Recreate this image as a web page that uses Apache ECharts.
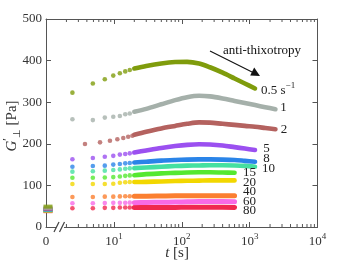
<!DOCTYPE html>
<html><head><meta charset="utf-8">
<script src="https://cdn.jsdelivr.net/npm/echarts@6/dist/echarts.min.js"></script>
<style>html,body{margin:0;padding:0;background:#fff}#c{width:351px;height:263px}</style>
</head><body><div id="c"></div>
<script>
const FONT = 'Liberation Serif';
const rateLabels = ['0.5', '1', '2', '5', '8', '10', '15', '20', '40', '60', '80'];
const colors = ['#7f9c0c', '#a5b0aa', '#b4625f', '#9b50f0', '#2a84e8', '#45e0a0', '#55e830', '#f2d700', '#fb7f30', '#f86ae6', '#f0284f'];

// value at t = 0 (drawn at the "0" position of the broken axis)
const tZero = 1.07;
const gZero = [49, 46, 44, 43, 42, 41, 40, 40, 39, 39, 38];

// early, discrete samples
const tDots = [2.45, 4.9, 7.35, 9.8, 12.25, 14.7, 17.15];
const tDotsRate2 = [3.75, 6.25, 8.75, 11.25, 13.75, 16.25, 18.75];
const g05Dots = [323, 345, 355, 364, 369.5, 374, 377.5];
const g1Dots = [259, 257, 263, 265, 267, 271, 273];
const g2Dots = [199.5, 203.5, 207.5, 211, 214, 217, 219.5];
const g5Dots = [163, 166, 169, 171, 174, 175.5, 177];
const g8Dots = [145, 146.5, 147.5, 150, 151.5, 153, 154];
const g10Dots = [133, 134, 135.5, 137, 138.5, 140, 141];
const g15Dots = [118.5, 118.5, 119, 120, 121.5, 123, 124];
const g20Dots = [103.5, 103.5, 103.5, 104, 106.5, 107.5, 108];
const g40Dots = [72, 72, 73, 73, 73.5, 74, 74];
const g60Dots = [57, 57, 57.5, 58, 58, 58, 58.5];
const g80Dots = [45, 45, 46, 46, 47, 47, 47];

// dense samples (continuous band)
const tCurve = [20, 30, 50, 80, 120, 180, 260, 400, 600, 850, 1200, 1700, 2400];
const g05Curve = [381, 387, 393, 396.5, 397, 393, 384, 371, 357, 345, 333, null, null];
const g1Curve = [277, 284, 295, 305, 312, 315.5, 314, 309, 303, 298, 293, 288, 283];
const g2Curve = [222, 229, 237, 243, 248, 251.5, 251, 248, 245.5, 243, 241, 238, 235];
const g5Curve = [179, 184, 190, 194.5, 197.5, 199, 198.5, 196, 192, 188.5, 185, null, null];
const g8Curve = [155, 157, 159.5, 161, 162, 162.5, 162.5, 162, 161, 159, 157, null, null];
const g10Curve = [141.5, 143, 145, 146.5, 147.5, 148, 148.5, 148.5, 148, 147, 145, null, null];
const g15Curve = [124.5, 127, 129, 130, 131, 131.5, 131.5, 131, 130.5, null, null, null, null];
const g20Curve = [108, 108.5, 109.5, 110.5, 111, 111.5, 112, 112, 112, null, null, null, null];
const g40Curve = [74, 74, 74.5, 75, 75, 75, 75, 75, 75, null, null, null, null];
const g60Curve = [58.5, 59, 59.5, 60, 60.5, 61, 61, 61, 60.5, null, null, null, null];
const g80Curve = [47, 47, 47, 47, 47.5, 47.5, 47.5, 47.5, 47, null, null, null, null];

const minorTickValues = [2, 3, 4, 5, 6, 7, 8, 9, 20, 30, 40, 50, 60, 70, 80, 90,
  200, 300, 400, 500, 600, 700, 800, 900, 2000, 3000, 4000, 5000, 6000, 7000, 8000, 9000];

const dotsAll = [g05Dots, g1Dots, g2Dots, g5Dots, g8Dots, g10Dots, g15Dots, g20Dots, g40Dots, g60Dots, g80Dots];
const curveAll = [g05Curve, g1Curve, g2Curve, g5Curve, g8Curve, g10Curve, g15Curve, g20Curve, g40Curve, g60Curve, g80Curve];

const series = [];
// minor ticks on log axes (bottom and top)
series.push({
  type: 'custom', clip: false, silent: true, z: 5,
  data: minorTickValues.map(v => [v]),
  encode: { x: 0 },
  renderItem: function (params, api) {
    const v = api.value(0);
    const b = api.coord([v, 0]);
    const t = api.coord([v, 500]);
    const st = { stroke: '#555', lineWidth: 1 };
    return { type: 'group', children: [
      { type: 'line', shape: { x1: b[0], y1: b[1], x2: b[0], y2: b[1] - 3 }, style: st },
      { type: 'line', shape: { x1: t[0], y1: t[1], x2: t[0], y2: t[1] + 3 }, style: st }
    ]};
  }
});

for (let i = rateLabels.length - 1; i >= 0; i--) {
  const td = (i === 2) ? tDotsRate2 : tDots;
  series.push({
    type: 'scatter', symbol: 'circle', symbolSize: 4.6, silent: true,
    itemStyle: { color: colors[i] },
    data: td.map((t, k) => [t, dotsAll[i][k]])
  });
  const cd = [];
  tCurve.forEach((t, k) => { if (curveAll[i][k] != null) cd.push([t, curveAll[i][k]]); });
  series.push({
    type: 'line', showSymbol: false, silent: true, smooth: 0.3,
    lineStyle: { color: colors[i], width: (i >= 8 ? 5 : 4.6), cap: 'round', join: 'round' },
    data: cd
  });
}
// t = 0 markers (drawn last so the 0.5 one is on top)
for (let i = rateLabels.length - 1; i >= 0; i--) {
  series.push({
    type: 'scatter', symbol: 'rect', symbolSize: [9, 4], clip: false, silent: true,
    itemStyle: { color: colors[i] },
    data: [[tZero, gZero[i]]]
  });
}

const axisColor = '#555';
const labelColor = '#333';

const option = {
  animation: false,
  backgroundColor: '#fff',
  grid: { left: 46, right: 33.5, top: 19, bottom: 36, containLabel: false },
  xAxis: [
    {
      type: 'log', logBase: 10, min: 1, max: 10000, position: 'bottom',
      axisLine: { show: true, onZero: false, lineStyle: { color: axisColor, width: 1 } },
      axisTick: { show: true, inside: true, length: 5, lineStyle: { color: axisColor } },
      splitLine: { show: false },
      axisLabel: {
        margin: 5, color: labelColor,
        formatter: function (v) {
          if (Math.abs(v - 1) < 1e-9) return '{b|0}';
          return '{b|10}{s|' + Math.round(Math.log10(v)) + '}';
        },
        rich: {
          b: { fontFamily: FONT, fontSize: 13, color: labelColor, lineHeight: 16, verticalAlign: 'bottom' },
          s: { fontFamily: FONT, fontSize: 9, color: labelColor, lineHeight: 16, verticalAlign: 'top' }
        }
      }
    },
    {
      type: 'log', logBase: 10, min: 1, max: 10000, position: 'top',
      axisLine: { show: true, onZero: false, lineStyle: { color: axisColor, width: 1 } },
      axisTick: { show: true, inside: true, length: 5, lineStyle: { color: axisColor } },
      axisLabel: { show: false }, splitLine: { show: false }
    }
  ],
  yAxis: [
    {
      type: 'value', min: 0, max: 500, interval: 100,
      axisLine: { show: true, onZero: false, lineStyle: { color: axisColor, width: 1 } },
      axisTick: { show: true, inside: true, length: 5, lineStyle: { color: axisColor } },
      splitLine: { show: false },
      axisLabel: { margin: 4, color: labelColor, fontFamily: FONT, fontSize: 13 }
    },
    {
      type: 'value', min: 0, max: 500, interval: 100, position: 'right',
      axisLine: { show: true, onZero: false, lineStyle: { color: axisColor, width: 1 } },
      axisTick: { show: true, inside: true, length: 5, lineStyle: { color: axisColor } },
      splitLine: { show: false }, axisLabel: { show: false }
    }
  ],
  graphic: [
    // axis break
    { type: 'rect', shape: { x: 56, y: 224, width: 8, height: 6 }, style: { fill: '#fff' }, z: 100 },
    { type: 'line', shape: { x1: 54, y1: 232, x2: 59, y2: 222 }, style: { stroke: '#444', lineWidth: 1.3 }, z: 101 },
    { type: 'line', shape: { x1: 59.5, y1: 232, x2: 64.5, y2: 222 }, style: { stroke: '#444', lineWidth: 1.3 }, z: 101 },
    // axis titles
    { type: 'text', x: 12, y: 126, rotation: Math.PI / 2, z: 100,
      style: { text: '{i|G}{p|′}{u|⊥}{n| [Pa]}', align: 'center', verticalAlign: 'middle',
        rich: {
          i: { fontFamily: FONT, fontStyle: 'italic', fontSize: 15, fill: labelColor, lineHeight: 20, verticalAlign: 'middle' },
          p: { fontFamily: FONT, fontSize: 12, fill: labelColor, lineHeight: 20, verticalAlign: 'top' },
          u: { fontFamily: FONT, fontSize: 10, fill: labelColor, lineHeight: 20, verticalAlign: 'bottom' },
          n: { fontFamily: FONT, fontSize: 15, fill: labelColor, lineHeight: 20, verticalAlign: 'middle' }
        } } },
    { type: 'text', x: 177, y: 253, z: 100,
      style: { text: '{i|t}{n| [s]}', align: 'center', verticalAlign: 'middle',
        rich: {
          i: { fontFamily: FONT, fontStyle: 'italic', fontSize: 15, fill: labelColor },
          n: { fontFamily: FONT, fontSize: 15, fill: labelColor }
        } } },
    // annotation
    { type: 'text', x: 262, y: 51, z: 100,
      style: { text: 'anti-thixotropy', font: '13px "Liberation Serif"', fill: '#111', align: 'center', verticalAlign: 'middle' } },
    { type: 'line', shape: { x1: 210, y1: 51, x2: 253, y2: 72.5 }, style: { stroke: '#111', lineWidth: 1.2 }, z: 100 },
    { type: 'polygon', shape: { points: [[260, 76], [250.2, 75.6], [254.2, 67.6]] }, style: { fill: '#111' }, z: 100 },
    // rate labels
    { type: 'text', x: 261, y: 89, z: 100,
      style: { text: '{n|0.5 s}{s|−1}', align: 'left', verticalAlign: 'middle',
        rich: {
          n: { fontFamily: FONT, fontSize: 13, fill: '#222', lineHeight: 16, verticalAlign: 'bottom' },
          s: { fontFamily: FONT, fontSize: 9, fill: '#222', lineHeight: 16, verticalAlign: 'top' }
        } } },
    { type: 'text', x: 283.5, y: 108, z: 100, style: { text: '1', font: '13px "Liberation Serif"', fill: '#222', align: 'center', verticalAlign: 'middle' } },
    { type: 'text', x: 284, y: 130, z: 100, style: { text: '2', font: '13px "Liberation Serif"', fill: '#222', align: 'center', verticalAlign: 'middle' } },
    { type: 'text', x: 266.5, y: 148.5, z: 100, style: { text: '5', font: '13px "Liberation Serif"', fill: '#222', align: 'center', verticalAlign: 'middle' } },
    { type: 'text', x: 266.5, y: 158.5, z: 100, style: { text: '8', font: '13px "Liberation Serif"', fill: '#222', align: 'center', verticalAlign: 'middle' } },
    { type: 'text', x: 268.5, y: 168.5, z: 100, style: { text: '10', font: '13px "Liberation Serif"', fill: '#222', align: 'center', verticalAlign: 'middle' } },
    { type: 'text', x: 249.5, y: 172.5, z: 100, style: { text: '15', font: '13px "Liberation Serif"', fill: '#222', align: 'center', verticalAlign: 'middle' } },
    { type: 'text', x: 249.5, y: 182.5, z: 100, style: { text: '20', font: '13px "Liberation Serif"', fill: '#222', align: 'center', verticalAlign: 'middle' } },
    { type: 'text', x: 249.5, y: 192, z: 100, style: { text: '40', font: '13px "Liberation Serif"', fill: '#222', align: 'center', verticalAlign: 'middle' } },
    { type: 'text', x: 249.5, y: 201.5, z: 100, style: { text: '60', font: '13px "Liberation Serif"', fill: '#222', align: 'center', verticalAlign: 'middle' } },
    { type: 'text', x: 249.5, y: 211, z: 100, style: { text: '80', font: '13px "Liberation Serif"', fill: '#222', align: 'center', verticalAlign: 'middle' } }
  ],
  series: series
};

const chart = echarts.init(document.getElementById('c'), null, { renderer: 'canvas' });
chart.setOption(option);
</script>
</body></html>
